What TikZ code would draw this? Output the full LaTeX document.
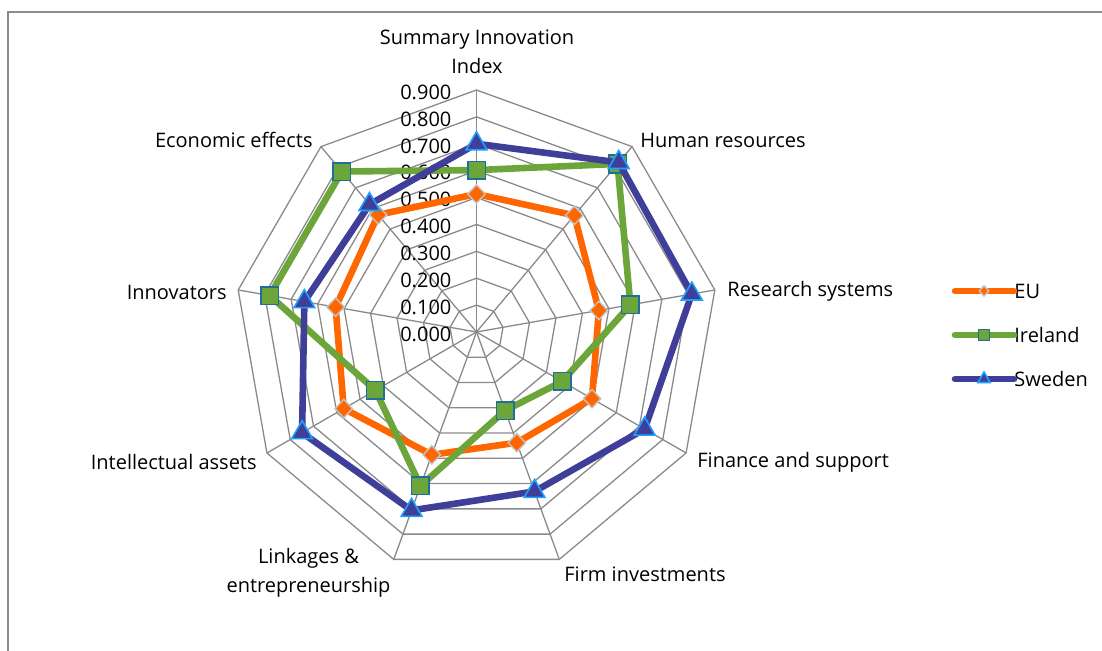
\documentclass[tikz,border=0pt]{standalone}
\usepackage{fontspec}
\setmainfont{Open Sans}
\usetikzlibrary{shapes.geometric, positioning}

\definecolor{framegray}{HTML}{8C8C8C}
\definecolor{webgray}{HTML}{8A8A8A}
\definecolor{euorange}{HTML}{FF6600}
\definecolor{eurim}{HTML}{C4C4C4}
\definecolor{iegreen}{HTML}{6CA53A}
\definecolor{ierim}{HTML}{1F6E9C}
\definecolor{sepurple}{HTML}{3F3F99}
\definecolor{serim}{HTML}{1EA0FF}

\tikzset{
  webline/.style={webgray, line width=0.65pt},
  euline/.style={euorange, line width=3.3pt, line join=round, line cap=round},
  ieline/.style={iegreen, line width=3.3pt, line join=round, line cap=round},
  seline/.style={sepurple, line width=3.3pt, line join=round, line cap=round},
  eumark/.style={diamond, fill=euorange, draw=eurim, line width=0.7pt, inner sep=0pt, minimum width=9pt, minimum height=9.5pt},
  iemark/.style={rectangle, fill=iegreen, draw=ierim, line width=0.8pt, inner sep=0pt, minimum size=8.8pt},
  semark/.style={regular polygon, regular polygon sides=3, fill=sepurple, draw=serim, line width=0.8pt, inner sep=0pt, minimum size=12pt},
  axislabel/.style={inner sep=0pt},
}

\begin{document}
\begin{tikzpicture}[x=0.5pt, y=0.5pt, font=\fontsize{10}{14.5}\selectfont]
\useasboundingbox (0,0) rectangle (1102,651);

% Draw the chart frame
\draw[framegray, line width=1pt] (7,639) -- (1102,639);
\draw[framegray, line width=1pt] (8,639) -- (8,0);

\begin{scope}[shift={(476.5,319)}, x=134.45pt, y=134.45pt]

  % Draw the web (rings and spokes)
  \foreach \r in {0.1,0.2,...,0.95} {
    \draw[webline] (90:\r) \foreach \a in {50,10,...,-230} { -- (\a:\r) } -- cycle;
  }
  \foreach \a in {90,50,...,-230} {
    \draw[webline] (0,0) -- (\a:0.9);
  }

  % Scale labels on the top spoke
  \foreach \v/\t in {0/0.000, 0.1/0.100, 0.2/0.200, 0.3/0.300, 0.4/0.400,
                     0.5/0.500, 0.6/0.600, 0.7/0.700, 0.8/0.800, 0.9/0.900} {
    \node[axislabel, anchor=east] (tick\t) at (-0.092,\v-0.008) {\t};
  }

  % Data points of the three series
  \foreach \v [count=\i from 0] in {0.513, 0.566, 0.462, 0.496, 0.438, 0.486, 0.570, 0.532, 0.569}
    \coordinate (eu\i) at ({90-40*\i}:\v);
  \foreach \v [count=\i from 0] in {0.602, 0.816, 0.581, 0.368, 0.311, 0.609, 0.434, 0.781, 0.779}
    \coordinate (ie\i) at ({90-40*\i}:\v);
  \foreach \v [count=\i from 0] in {0.700, 0.823, 0.813, 0.722, 0.631, 0.706, 0.749, 0.650, 0.619}
    \coordinate (se\i) at ({90-40*\i}:\v);

  % EU
  \draw[euline] (eu0) -- (eu1) -- (eu2) -- (eu3) -- (eu4) -- (eu5) -- (eu6) -- (eu7) -- (eu8) -- cycle;
  \foreach \i in {0,...,8} \node[eumark] (eudot\i) at (eu\i) {};

  % Ireland
  \draw[ieline] (ie0) -- (ie1) -- (ie2) -- (ie3) -- (ie4) -- (ie5) -- (ie6) -- (ie7) -- (ie8) -- cycle;
  \foreach \i in {0,...,8} \node[iemark] (iedot\i) at (ie\i) {};

  % Sweden
  \draw[seline] (se0) -- (se1) -- (se2) -- (se3) -- (se4) -- (se5) -- (se6) -- (se7) -- (se8) -- cycle;
  \foreach \i in {0,...,8} \node[semark] (sedot\i) at (se\i) {};

\end{scope}

% Axis labels
\node[axislabel, align=center] (sii) at (477,599.5) {Summary Innovation\\Index};
\node[axislabel, anchor=west] (hr) at (640,511) {Human resources};
\node[axislabel, anchor=west] (rs) at (727,360) {Research systems};
\node[axislabel, anchor=west] (fs) at (697,189) {Finance and support};
\node[axislabel, anchor=west] (fi) at (564,77) {Firm investments};
\node[axislabel, align=center] (le) at (308.5,78) {Linkages \&\\entrepreneurship};
\node[axislabel, anchor=east] (ia) at (257,189) {Intellectual assets};
\node[axislabel, anchor=east] (inn) at (227,359) {Innovators};
\node[axislabel, anchor=east] (ee) at (313,511) {Economic effects};

% Legend
\node[axislabel, anchor=west] (eukey) at (1014,360) {EU};
\node[axislabel, anchor=west] (iekey) at (1014,316) {Ireland};
\node[axislabel, anchor=west] (sekey) at (1014,272) {Sweden};
\coordinate (eustart) at (955,360);
\coordinate (iestart) at (955,316);
\coordinate (sestart) at (955,272);
\draw[euline] (eustart) -- (eukey.west);
\draw[ieline] (iestart) -- (iekey.west);
\draw[seline] (sestart) -- (sekey.west);
\node[eumark, minimum width=5pt, minimum height=5.5pt] (eukeydot) at (984,360) {};
\node[iemark, minimum size=5.5pt] (iekeydot) at (984,316) {};
\node[semark, minimum size=7pt] (sekeydot) at (984,272) {};

\end{tikzpicture}
\end{document}
